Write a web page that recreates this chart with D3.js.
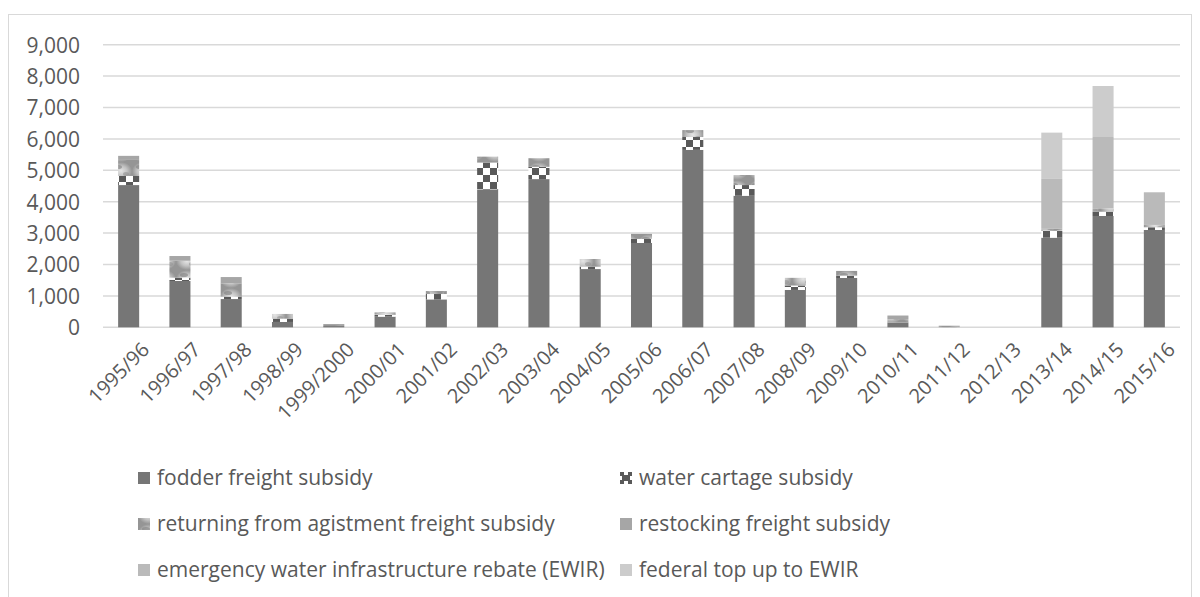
<!DOCTYPE html>
<html><head><meta charset="utf-8">
<script src="https://cdn.jsdelivr.net/npm/d3@7"></script>
<style>
html,body{margin:0;padding:0;background:#fff;}
svg{display:block;font-family:"Open Sans",sans-serif;}
</style></head>
<body><svg id="chart" width="1200" height="597"></svg>
<script>
const categories = ["1995/96","1996/97","1997/98","1998/99","1999/2000","2000/01","2001/02","2002/03","2003/04","2004/05","2005/06","2006/07","2007/08","2008/09","2009/10","2010/11","2011/12","2012/13","2013/14","2014/15","2015/16"];
const fodder     = [4530,1475,900,170,40,340,890,4395,4720,1855,2685,5650,4190,1190,1570,150,0,0,2855,3545,3100];
const water      = [290,105,75,105,0,60,170,850,390,75,130,410,340,140,75,0,0,0,225,135,85];
const returning  = [510,540,425,150,60,75,95,190,275,245,160,220,320,245,150,110,50,0,55,110,75];
const restocking = [130,150,200,0,0,0,0,0,0,0,0,0,0,0,0,115,0,0,0,0,0];
const ewir       = [0,0,0,0,0,0,0,0,0,0,0,0,0,0,0,0,0,0,1590,2270,1040];
const federal    = [0,0,0,0,0,0,0,0,0,0,0,0,0,0,0,0,0,0,1475,1625,0];
const seriesNames = ["fodder freight subsidy","water cartage subsidy","returning from agistment freight subsidy","restocking freight subsidy","emergency water infrastructure rebate (EWIR)","federal top up to EWIR"];
const seriesValues = [fodder, water, returning, restocking, ewir, federal];
const yTicks = [0,1000,2000,3000,4000,5000,6000,7000,8000,9000];

const svg = d3.select("#chart");
const defs = svg.append("defs");

// checker pattern for water cartage
const chk = defs.append("pattern").attr("id","checker").attr("patternUnits","userSpaceOnUse")
  .attr("width",14).attr("height",14);
chk.append("rect").attr("width",14).attr("height",14).attr("fill","#ffffff");
chk.append("rect").attr("x",0).attr("y",0).attr("width",7).attr("height",7).attr("fill","#595959");
chk.append("rect").attr("x",7).attr("y",7).attr("width",7).attr("height",7).attr("fill","#595959");
// legend icon for water cartage: dark square with white notches
const chkS = defs.append("pattern").attr("id","checkerS").attr("patternUnits","objectBoundingBox")
  .attr("width",1).attr("height",1);
chkS.append("rect").attr("width",12).attr("height",12).attr("fill","#595959");
chkS.append("rect").attr("x",4).attr("y",0).attr("width",4).attr("height",3).attr("fill","#ffffff");
chkS.append("rect").attr("x",4).attr("y",9).attr("width",4).attr("height",3).attr("fill","#ffffff");
chkS.append("rect").attr("x",0).attr("y",4).attr("width",2).attr("height",4).attr("fill","#ffffff");
chkS.append("rect").attr("x",10).attr("y",4).attr("width",2).attr("height",4).attr("fill","#ffffff");

// blotchy texture for returning from agistment
const rg = defs.append("radialGradient").attr("id","blot");
rg.append("stop").attr("offset","0%").attr("stop-color","#e6e6e6");
rg.append("stop").attr("offset","55%").attr("stop-color","#c2c2c2");
rg.append("stop").attr("offset","100%").attr("stop-color","#959595");
const tex = defs.append("pattern").attr("id","texture").attr("patternUnits","userSpaceOnUse")
  .attr("width",22).attr("height",18);
tex.append("rect").attr("width",22).attr("height",18).attr("fill","url(#blot)");
tex.append("ellipse").attr("cx",8).attr("cy",5).attr("rx",4).attr("ry",2).attr("fill","#7e7e7e").attr("opacity",0.6);
tex.append("ellipse").attr("cx",16).attr("cy",12).attr("rx",3).attr("ry",2).attr("fill","#8e8e8e").attr("opacity",0.55);

const fills = ["#767676","url(#checker)","url(#texture)","#a6a6a6","#bababa","#cccccc"];
const legendFills = ["#767676","url(#checkerS)","url(#texture)","#a6a6a6","#bababa","#cccccc"];

// outer border
svg.append("rect").attr("x",8.5).attr("y",14.5).attr("width",1183).attr("height",600)
  .attr("fill","none").attr("stroke","#d9d9d9").attr("stroke-width",1);

const x = d3.scaleBand().domain(categories).range([103,1180]).paddingInner(0.59).paddingOuter(0.295);
const y = d3.scaleLinear().domain([0,9000]).range([327.3,44.7]);

// gridlines
svg.append("g").selectAll("line").data(yTicks).join("line")
  .attr("x1",103).attr("x2",1180)
  .attr("y1",d=>y(d)).attr("y2",d=>y(d))
  .attr("stroke","#d9d9d9").attr("stroke-width",1.5);

// y axis labels
const yAxis = d3.axisLeft(y).tickValues(yTicks).tickSize(0).tickPadding(0).tickFormat(d3.format(","));
const gy = svg.append("g").attr("transform","translate(80,0)").call(yAxis);
gy.select(".domain").remove();
gy.selectAll("text").attr("fill","#595959").style("font-size","21px").style("font-family","'Open Sans',sans-serif").attr("dy","0.35em");

// stacked bars
const rows = categories.map((c,i)=>{ const o={cat:c}; seriesNames.forEach((s,k)=>o[s]=seriesValues[k][i]); return o; });
const stack = d3.stack().keys(seriesNames)(rows);
svg.append("g").selectAll("g").data(stack).join("g")
  .attr("fill",(d,i)=>fills[i])
  .selectAll("rect").data(d=>d).join("rect")
  .attr("x",d=>x(d.data.cat))
  .attr("width",x.bandwidth())
  .attr("y",d=>y(d[1]))
  .attr("height",d=>Math.max(0,y(d[0])-y(d[1])));

// x axis labels
const xAxis = d3.axisBottom(x).tickSize(0).tickPadding(0);
const gx = svg.append("g").attr("transform","translate(0,341)").call(xAxis);
gx.select(".domain").remove();
gx.selectAll("text").attr("fill","#595959").style("font-size","20px").style("font-family","'Open Sans',sans-serif")
  .attr("text-anchor","end").attr("dy","0.7em").attr("y",0)
  .attr("transform","translate(12,0) rotate(-45)");

// legend
const legendPos = [[138,478],[620,478],[138,524],[620,524],[138,570],[620,570]];
const lg = svg.append("g").selectAll("g").data(seriesNames).join("g")
  .attr("transform",(d,i)=>`translate(${legendPos[i][0]},${legendPos[i][1]})`);
lg.append("rect").attr("x",0).attr("y",-6).attr("width",12).attr("height",12).attr("fill",(d,i)=>legendFills[i]);
lg.append("text").attr("x",19).attr("y",0).attr("dy","0.35em").text(d=>d)
  .attr("fill","#595959").style("font-size","21px");
</script></body></html>
